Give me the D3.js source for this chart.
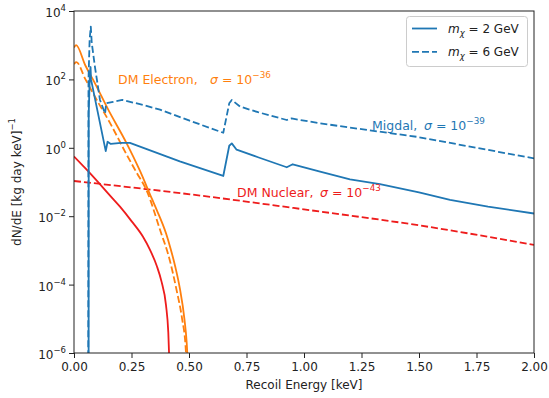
<!DOCTYPE html>
<html><head><meta charset="utf-8">
<script src="https://cdn.jsdelivr.net/npm/d3@7"></script>
<style>
body{margin:0;background:#fff;}
svg text{font-family:"DejaVu Sans",sans-serif;}
</style></head>
<body><svg id="c" width="549" height="398"></svg>
<script>
// ---- data (x in keV, y in dN/dE) ----
const migdal2 = [[0.0635,1e-7],[0.064,10],[0.069,150],[0.072,230],[0.074,100],[0.138,0.8],[0.146,1.5],[0.16,1.3],[0.205,1.4],[0.243,1.4],[0.46,0.4],[0.649,0.15],[0.675,1.15],[0.686,1.35],[0.707,0.88],[0.8,0.53],[0.925,0.27],[0.951,0.33],[1.07,0.2],[1.2,0.12],[1.33,0.087],[1.5,0.05],[1.635,0.03],[1.8,0.019],[2.0,0.012]];
const migdal6 = [[0.062,1e-7],[0.063,100],[0.068,1500],[0.073,3500],[0.077,1200],[0.091,234],[0.113,25],[0.135,10],[0.14,20],[0.17,22],[0.21,25],[0.3,18],[0.374,13],[0.5,6.3],[0.649,2.75],[0.675,20],[0.686,25],[0.722,16],[0.8,11],[0.925,6.5],[0.946,7.2],[1.07,5.2],[1.25,3.5],[1.49,2.1],[1.75,1.0],[2.0,0.49]];
const electron2 = [[0,850],[0.009,1000],[0.05,251],[0.084,95],[0.15,12.6],[0.229,1.35],[0.287,0.21],[0.338,0.033],[0.36,0.0151],[0.4,3.16e-3],[0.42,1.12e-3],[0.44,3.4e-4],[0.46,7.9e-5],[0.48,1e-5],[0.49,2e-6],[0.498,1.6e-7]];
const electron6 = [[0,280],[0.01,320],[0.05,100],[0.099,25],[0.157,5.25],[0.229,0.63],[0.27,0.2],[0.316,0.056],[0.374,4e-3],[0.417,5e-4],[0.446,6.9e-5],[0.47,1e-5],[0.485,1.6e-6],[0.493,1.6e-7]];
const nuclear2 = [[0,0.56],[0.05,0.25],[0.1,0.108],[0.15,0.045],[0.2,0.019],[0.25,7.2e-3],[0.3,2.5e-3],[0.33,1.05e-3],[0.36,3.5e-4],[0.38,1.26e-4],[0.4,2.5e-5],[0.41,4e-6],[0.416,3e-7]];
const nuclear6 = [[0,0.107],[0.55,0.04],[1.0,0.0158],[1.5,5.4e-3],[2.0,1.45e-3]];
const xTicks = [0,0.25,0.5,0.75,1.0,1.25,1.5,1.75,2.0];
const yTickExp = [-6,-4,-2,0,2,4];
const legendLabels = ["2","6"];

const blue="#1f77b4", orange="#ff7f0e", red="#ee1c1c";
const svg=d3.select("#c");
const L=74,R=534,T=11,B=353;
const x=d3.scaleLinear([0,2],[L,R]);
const y=d3.scaleLog([1e-6,1e4],[B,T]);

svg.append("defs").append("clipPath").attr("id","clip")
  .append("rect").attr("x",L).attr("y",T).attr("width",R-L).attr("height",B-T);

const lineLin=d3.line().x(d=>x(d[0])).y(d=>y(d[1]));
const lineSmooth=d3.line().x(d=>x(d[0])).y(d=>y(d[1])).curve(d3.curveMonotoneX);
const g=svg.append("g").attr("clip-path","url(#clip)");
const series=[
  {d:nuclear2,c:red,dash:null,s:true},
  {d:nuclear6,c:red,dash:"7,3",s:true},
  {d:electron6,c:orange,dash:"7,3",s:true},
  {d:electron2,c:orange,dash:null,s:true},
  {d:migdal6,c:blue,dash:"7,3",s:false},
  {d:migdal2,c:blue,dash:null,s:false}
];
series.forEach(s=>{
  g.append("path").attr("d",(s.s?lineSmooth:lineLin)(s.d)).attr("fill","none")
   .attr("stroke",s.c).attr("stroke-width",1.8)
   .attr("stroke-dasharray",s.dash).attr("stroke-linejoin","round");
});

// axes
const xa=svg.append("g").attr("transform",`translate(0,${B})`)
  .call(d3.axisBottom(x).tickValues(xTicks).tickFormat(d3.format(".2f")).tickSize(5).tickPadding(4));
xa.selectAll("text").attr("font-size",12).attr("fill","#222");
const ya=svg.append("g").attr("transform",`translate(${L},0)`)
  .call(d3.axisLeft(y).tickValues(yTickExp.map(e=>Math.pow(10,e))).tickFormat("").tickSize(5));
[xa,ya].forEach(a=>{a.select(".domain").remove();a.selectAll("line").attr("stroke","#222");});
yTickExp.forEach(e=>{
  const t=svg.append("text").attr("x",L-8).attr("y",y(Math.pow(10,e))+6)
    .attr("text-anchor","end").attr("font-size",12).attr("fill","#222");
  t.append("tspan").text("10");
  t.append("tspan").attr("font-size",8.5).attr("dy",-6).text(e<0?"\u2212"+(-e):String(e));
});
svg.append("rect").attr("x",L).attr("y",T).attr("width",R-L).attr("height",B-T)
  .attr("fill","none").attr("stroke","#222").attr("stroke-width",1);

// axis labels
svg.append("text").attr("x",(L+R)/2).attr("y",389).attr("text-anchor","middle")
  .attr("font-size",12).attr("fill","#222").text("Recoil Energy [keV]");
const yl=svg.append("text").attr("transform",`translate(21,${(T+B)/2}) rotate(-90)`)
  .attr("text-anchor","middle").attr("font-size",12).attr("fill","#222");
yl.append("tspan").text("dN/dE [kg day keV]");
yl.append("tspan").attr("font-size",8.5).attr("dy",-6).text("\u22121");

// annotations
function annot(xp,yp,col,label,sx,exp){
  const t=svg.append("text").attr("x",xp).attr("y",yp).attr("font-size",12.5).attr("fill",col);
  t.append("tspan").text(label);
  t.append("tspan").attr("x",sx).attr("font-style","italic").text("\u03c3");
  t.append("tspan").text(" = 10");
  t.append("tspan").attr("font-size",8.8).attr("dy",-6).text("\u2212"+exp);
}
annot(118,84,orange,"DM Electron,",210,"36");
annot(372,130,blue,"Migdal,",424,"39");
annot(237,197,red,"DM Nuclear,",320,"43");

// legend
const lg=svg.append("g");
lg.append("rect").attr("x",406.5).attr("y",16.5).attr("width",121).attr("height",50).attr("rx",3)
  .attr("fill","#fff").attr("fill-opacity",0.8).attr("stroke","#ccc");
legendLabels.forEach((m,i)=>{
  const yy=28.5+i*23.3;
  lg.append("line").attr("x1",412).attr("x2",437).attr("y1",yy).attr("y2",yy)
    .attr("stroke",blue).attr("stroke-width",1.8).attr("stroke-dasharray",i?"7,3":null);
  const t=lg.append("text").attr("x",448).attr("y",yy+4.5).attr("font-size",12).attr("fill","#222");
  t.append("tspan").attr("font-style","italic").text("m");
  t.append("tspan").attr("font-style","italic").attr("font-size",8.5).attr("dy",3).text("\u03c7");
  t.append("tspan").attr("dy",-3).text(" = "+m+" GeV");
});
</script></body></html>
